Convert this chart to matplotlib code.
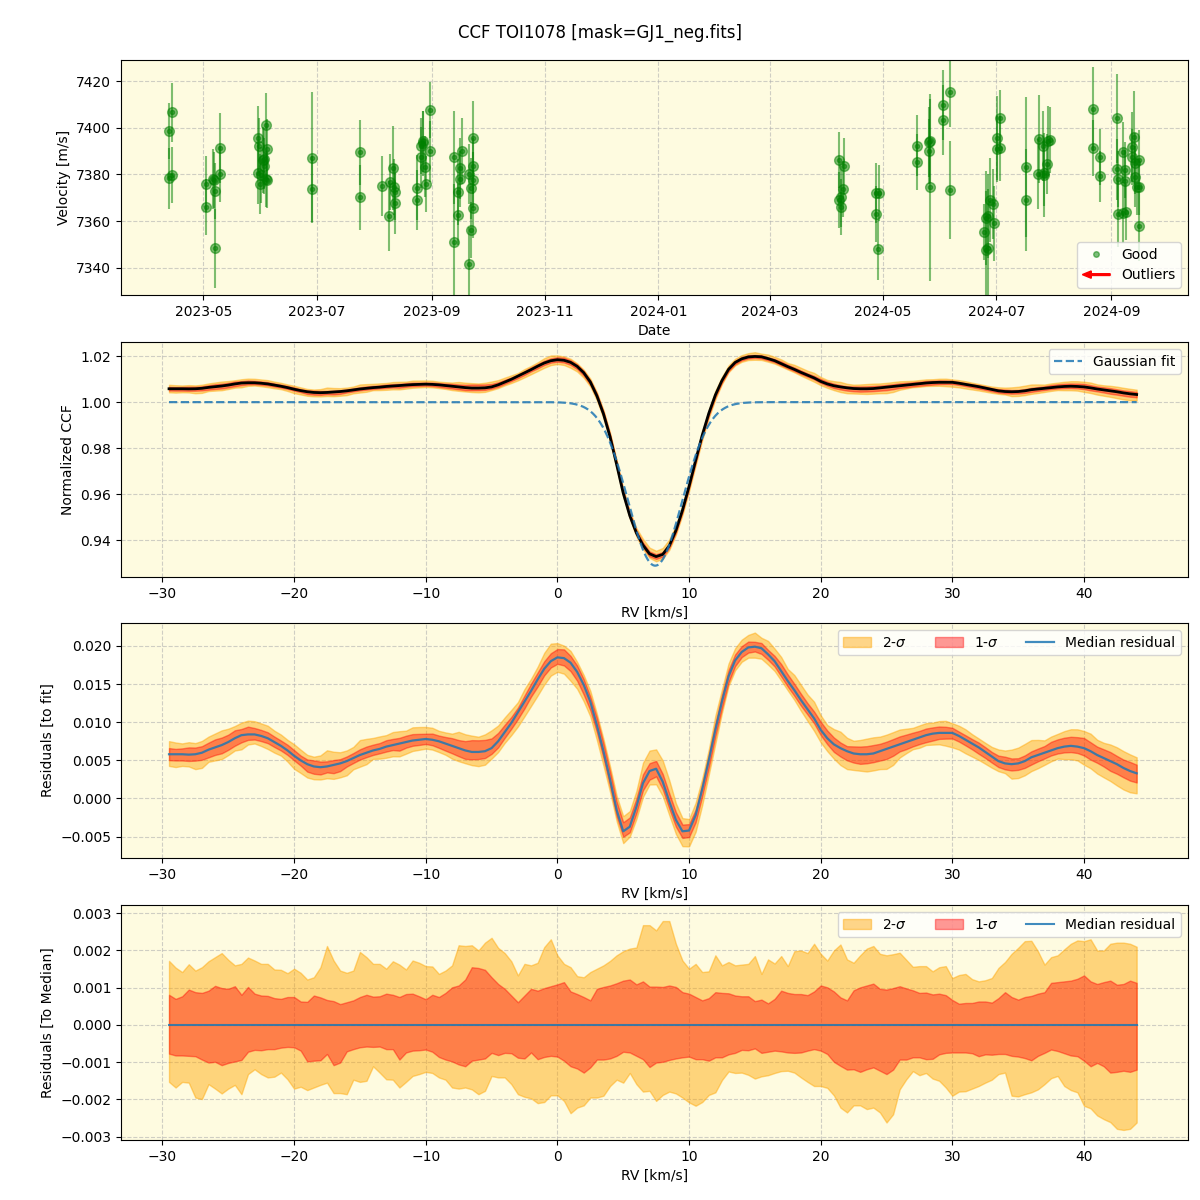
import numpy as np
import pandas as pd
import matplotlib
matplotlib.use("Agg")
import matplotlib.pyplot as plt
import matplotlib.dates as mdates
import matplotlib.patches as mpatches
from matplotlib.lines import Line2D
from matplotlib.legend_handler import HandlerPatch

# ---------------- RV time series ----------------
obs_dates = [
    "2023-04-12 17:00", "2023-04-12 17:00", "2023-04-14 05:00", "2023-04-14 05:00",
    "2023-05-02 10:00", "2023-05-02 10:00", "2023-05-06 02:00", "2023-05-06 16:00",
    "2023-05-07 05:00", "2023-05-07 05:00", "2023-05-10 00:00", "2023-05-10 04:00",
    "2023-05-30 10:00", "2023-05-30 10:00", "2023-05-31 04:00", "2023-05-31 17:00",
    "2023-06-01 02:00", "2023-06-01 20:00", "2023-06-02 14:00", "2023-06-02 14:00",
    "2023-06-03 12:00", "2023-06-03 12:00", "2023-06-04 10:00", "2023-06-04 10:00",
    "2023-06-28 13:00", "2023-06-28 13:00",
    "2023-07-24 12:00", "2023-07-24 12:00",
    "2023-08-05 03:00", "2023-08-09 02:00", "2023-08-09 14:00", "2023-08-11 03:00",
    "2023-08-11 12:00", "2023-08-12 10:00", "2023-08-12 10:00",
    "2023-08-23 22:00", "2023-08-24 02:00", "2023-08-25 22:00", "2023-08-25 22:00",
    "2023-08-27 05:00", "2023-08-27 05:00", "2023-08-28 12:00", "2023-08-29 02:00",
    "2023-08-31 05:00", "2023-08-31 05:00",
    "2023-09-12 22:00", "2023-09-12 22:00", "2023-09-15 07:00", "2023-09-15 07:00",
    "2023-09-16 05:00", "2023-09-16 05:00", "2023-09-17 10:00", "2023-09-21 02:00",
    "2023-09-21 07:00", "2023-09-22 05:00", "2023-09-22 05:00", "2023-09-23 05:00",
    "2023-09-23 05:00", "2023-09-23 05:00", "2023-09-23 05:00",
    "2024-04-07 03:00", "2024-04-07 07:00", "2024-04-08 10:00", "2024-04-08 14:00",
    "2024-04-09 17:00", "2024-04-09 22:00",
    "2024-04-27 07:00", "2024-04-27 07:00", "2024-04-28 07:00", "2024-04-28 17:00",
    "2024-05-19 10:00", "2024-05-19 10:00", "2024-05-25 17:00", "2024-05-25 17:00",
    "2024-05-26 14:00", "2024-05-26 14:00", "2024-06-02 07:00", "2024-06-02 07:00",
    "2024-06-06 05:00", "2024-06-06 05:00",
    "2024-06-24 05:00", "2024-06-25 07:00", "2024-06-25 07:00", "2024-06-26 19:00",
    "2024-06-26 19:00", "2024-06-27 10:00", "2024-06-29 05:00", "2024-06-29 14:00",
    "2024-07-01 10:00", "2024-07-01 10:00", "2024-07-03 07:00", "2024-07-03 07:00",
    "2024-07-16 22:00", "2024-07-16 22:00", "2024-07-23 17:00", "2024-07-24 02:00",
    "2024-07-26 00:00", "2024-07-26 22:00", "2024-07-26 22:00", "2024-07-28 07:00",
    "2024-07-28 17:00", "2024-07-30 00:00",
    "2024-08-22 05:00", "2024-08-22 05:00", "2024-08-25 17:00", "2024-08-25 17:00",
    "2024-09-04 05:00", "2024-09-04 05:00", "2024-09-04 17:00", "2024-09-04 17:00",
    "2024-09-07 12:00", "2024-09-07 12:00", "2024-09-08 10:00", "2024-09-08 10:00",
    "2024-09-09 00:00", "2024-09-12 05:00", "2024-09-12 05:00", "2024-09-13 02:00",
    "2024-09-13 14:00", "2024-09-14 00:00", "2024-09-15 00:00", "2024-09-15 22:00",
    "2024-09-15 22:00", "2024-09-15 22:00",
]
obs_rv = [
    7398.5, 7378.4, 7406.6, 7379.7,
    7375.8, 7366.1, 7378.1, 7377.6, 7372.8, 7348.4, 7391.2, 7380.2,
    7395.5, 7380.5, 7392.2, 7375.9, 7379.7, 7386.2, 7386.8, 7383.6,
    7401.0, 7378.0, 7390.8, 7377.6,
    7387.1, 7373.7,
    7389.5, 7370.2,
    7375.1, 7362.1, 7376.7, 7382.7, 7374.5, 7372.6, 7367.7,
    7374.4, 7369.0, 7387.3, 7392.2, 7393.3, 7394.2, 7383.3, 7375.9,
    7407.5, 7389.9,
    7387.3, 7351.0, 7372.4, 7362.7, 7382.7, 7378.1, 7390.1, 7380.2,
    7341.6, 7374.1, 7356.1, 7395.5, 7383.6, 7377.6, 7365.7,
    7386.1, 7369.0, 7370.5, 7366.0, 7373.7, 7383.8,
    7372.0, 7363.0, 7348.0, 7372.2,
    7392.3, 7385.2, 7393.9, 7389.9, 7394.5, 7374.5, 7409.7, 7403.2,
    7415.3, 7373.2,
    7355.3, 7361.3, 7347.7, 7362.4, 7348.7, 7369.0, 7367.4, 7359.1,
    7395.5, 7390.9, 7404.0, 7391.2,
    7383.1, 7369.1, 7380.2, 7395.2, 7392.1, 7380.6, 7379.7, 7384.5,
    7394.3, 7394.8,
    7407.9, 7391.2, 7387.3, 7379.2,
    7404.0, 7382.2, 7363.0, 7378.2, 7389.5, 7363.7, 7381.9, 7377.4,
    7364.1, 7391.9, 7387.6, 7395.9, 7384.8, 7379.1, 7374.8, 7386.2,
    7374.5, 7358.0,
]
obs_err = [
    12, 13, 12.5, 12,
    12, 12, 13, 12, 12, 17, 15, 12,
    14, 13, 12, 13, 12, 14, 13, 12,
    14, 12, 13, 12,
    28, 14,
    14, 14,
    13, 15, 12, 18, 12, 12, 13,
    14, 13, 13, 12, 14, 13, 13, 12,
    12, 13,
    20, 25, 14, 13, 13, 12, 14, 13,
    16, 13, 12, 16, 12, 12, 13,
    12, 12, 13, 12, 12, 12,
    13, 12, 13, 12,
    13, 12, 15, 14, 18, 40, 15, 15,
    15, 21,
    12, 20, 25, 18, 25, 18, 15, 16,
    18, 14, 12, 14,
    30, 22, 15, 19, 15, 14, 18, 13,
    15, 14,
    18, 12, 12, 11,
    19, 13, 14, 12, 13, 13, 12, 13,
    12, 15, 12, 20, 13, 13, 12, 13,
    12, 15,
]

# ---------------- CCF residual profiles (RV grid, 0.5 km/s) ----------------
rv = np.arange(-29.5, 44.01, 0.5)

resid_median = [
    0.0058, 0.0058, 0.0058, 0.00575, 0.0058, 0.0060, 0.0064, 0.0067, 0.0070, 0.0074,
    0.0079, 0.0083, 0.0084, 0.0084, 0.0082, 0.0079, 0.0074, 0.0069, 0.0063, 0.0056,
    0.0050, 0.0045, 0.0042, 0.0041, 0.0042, 0.0044, 0.0046, 0.0049, 0.0053, 0.0057,
    0.0060, 0.0063, 0.0065, 0.0068, 0.0070, 0.0072, 0.0074, 0.0076, 0.0077, 0.0078,
    0.0077, 0.0075, 0.0072, 0.0069, 0.0066, 0.0063, 0.0061, 0.0061, 0.0062, 0.0066,
    0.0075, 0.0087, 0.0099, 0.0113, 0.0127, 0.0141, 0.0156, 0.0170, 0.0180, 0.0185,
    0.0184, 0.0178, 0.0166, 0.0149, 0.0127, 0.0096, 0.0062, 0.0025, -0.0015, -0.0043,
    -0.0037, -0.0011, 0.0020, 0.0036, 0.0039, 0.0022, -0.0004, -0.0028, -0.0043, -0.0042,
    -0.0022, 0.0012, 0.0050, 0.0090, 0.0127, 0.0160, 0.0181, 0.0192, 0.0198, 0.0199,
    0.0197, 0.0189, 0.0180, 0.0167, 0.0154, 0.0142, 0.0129, 0.0117, 0.0105, 0.0090,
    0.0079, 0.0071, 0.0066, 0.0062, 0.0059, 0.0058, 0.0058, 0.0059, 0.0062, 0.0065,
    0.0068, 0.0071, 0.0074, 0.0077, 0.0080, 0.0083, 0.0085, 0.0086, 0.0086, 0.0086,
    0.0082, 0.0077, 0.0072, 0.0067, 0.0061, 0.0055, 0.0049, 0.0046, 0.0045, 0.0046,
    0.0049, 0.0054, 0.0057, 0.0060, 0.0063, 0.0066, 0.0068, 0.0069, 0.0068, 0.0066,
    0.0062, 0.0057, 0.0053, 0.0049, 0.0045, 0.0040, 0.0036, 0.0033,
]

# band edges relative to the median, in units of 1e-3
sig2_hi = [
    1.72, 1.54, 1.42, 1.63, 1.46, 1.55, 1.71, 1.82, 1.93, 1.75,
    1.60, 1.64, 1.81, 1.73, 1.64, 1.64, 1.49, 1.48, 1.39, 1.51,
    1.40, 1.22, 1.28, 1.55, 2.12, 1.73, 1.46, 1.40, 1.46, 1.96,
    1.82, 1.64, 1.64, 1.51, 1.71, 1.62, 1.49, 1.73, 1.67, 1.58,
    1.57, 1.37, 1.46, 1.60, 2.14, 2.12, 2.14, 2.00, 2.21, 2.34,
    2.07, 1.93, 1.71, 1.33, 1.64, 1.60, 1.67, 2.09, 2.30, 1.87,
    1.64, 1.55, 1.31, 1.28, 1.42, 1.51, 1.60, 1.72, 1.87, 1.98,
    2.05, 2.08, 2.68, 2.68, 2.54, 2.79, 2.79, 2.18, 1.73, 1.51,
    1.64, 1.42, 1.44, 1.87, 1.60, 1.69, 1.60, 1.62, 1.64, 1.85,
    1.37, 1.76, 1.65, 1.85, 1.58, 1.98, 2.00, 1.93, 2.18, 1.91,
    1.73, 2.00, 2.16, 1.76, 1.67, 1.87, 2.05, 2.12, 1.91, 1.87,
    1.90, 1.94, 1.75, 1.56, 1.58, 1.58, 1.44, 1.55, 1.58, 1.26,
    1.34, 1.37, 1.23, 1.17, 1.20, 1.26, 1.53, 1.69, 1.91, 2.07,
    2.25, 2.26, 1.98, 1.62, 1.82, 1.87, 2.03, 2.18, 2.27, 2.25,
    2.30, 2.00, 2.00, 2.18, 2.21, 2.21, 2.18, 2.10,
]
sig1_hi = [
    0.81, 0.70, 0.77, 0.95, 0.88, 0.86, 0.92, 1.05, 0.99, 0.97,
    1.04, 0.81, 1.02, 0.84, 0.79, 0.78, 0.72, 0.70, 0.75, 0.75,
    0.63, 0.62, 0.79, 0.74, 0.67, 0.64, 0.56, 0.61, 0.66, 0.75,
    0.81, 0.76, 0.77, 0.84, 0.81, 0.75, 0.83, 0.84, 0.77, 0.69,
    0.81, 0.75, 0.86, 1.01, 1.06, 1.22, 1.55, 1.53, 1.48, 1.28,
    1.10, 0.97, 0.79, 0.61, 0.79, 0.97, 0.92, 0.99, 1.04, 1.09,
    1.15, 0.90, 0.83, 0.75, 0.66, 0.97, 1.02, 1.06, 1.12, 1.19,
    1.22, 1.09, 1.17, 1.03, 1.03, 1.02, 1.06, 1.02, 0.88, 0.84,
    0.75, 0.66, 0.72, 0.88, 0.86, 0.85, 0.79, 0.77, 0.77, 0.64,
    0.68, 0.58, 0.70, 0.92, 0.86, 0.83, 0.83, 0.80, 0.90, 1.06,
    1.01, 0.90, 0.74, 0.66, 0.93, 1.01, 1.06, 1.11, 0.97, 0.95,
    0.99, 1.04, 0.98, 0.93, 0.86, 0.87, 0.82, 0.84, 0.80, 0.67,
    0.57, 0.59, 0.59, 0.63, 0.63, 0.60, 0.72, 0.88, 0.75, 0.68,
    0.75, 0.78, 0.84, 0.88, 1.13, 1.15, 1.17, 1.19, 1.24, 1.33,
    1.17, 1.10, 1.15, 1.19, 1.08, 1.10, 1.19, 1.13,
]
sig1_lo = [
    -0.77, -0.82, -0.82, -0.83, -0.84, -0.93, -1.01, -0.99, -1.08, -1.02,
    -0.98, -0.94, -0.72, -0.67, -0.68, -0.65, -0.65, -0.61, -0.59, -0.60,
    -0.69, -0.98, -0.96, -0.95, -0.78, -1.08, -1.01, -0.71, -0.65, -0.60,
    -0.58, -0.59, -0.58, -0.65, -0.65, -0.93, -0.74, -0.69, -0.68, -0.66,
    -0.72, -0.86, -0.93, -0.98, -1.06, -1.11, -0.96, -0.93, -0.90, -0.75,
    -0.81, -0.75, -0.76, -0.88, -0.90, -0.74, -0.92, -0.86, -0.83, -0.85,
    -0.96, -1.11, -1.17, -1.28, -1.14, -0.93, -0.93, -0.90, -0.83, -0.72,
    -0.74, -0.83, -0.92, -1.13, -1.01, -0.99, -0.94, -0.90, -0.87, -0.85,
    -0.92, -0.92, -0.96, -0.87, -0.87, -0.79, -0.75, -0.67, -0.68, -0.63,
    -0.75, -0.72, -0.69, -0.71, -0.74, -0.75, -0.74, -0.69, -0.65, -0.69,
    -0.78, -0.99, -1.10, -1.20, -1.19, -1.26, -1.19, -1.14, -1.23, -1.32,
    -1.20, -0.93, -0.93, -0.87, -0.87, -0.92, -0.91, -0.79, -0.75, -0.74,
    -0.74, -0.74, -0.76, -0.84, -0.79, -0.80, -0.78, -0.78, -0.83, -0.85,
    -0.89, -0.95, -0.83, -0.75, -0.66, -0.70, -0.76, -0.82, -0.84, -0.96,
    -1.11, -1.02, -1.11, -1.28, -1.26, -1.23, -1.26, -1.20,
]
sig2_lo = [
    -1.53, -1.68, -1.53, -1.55, -1.95, -1.99, -1.59, -1.71, -1.84, -1.71,
    -1.61, -1.86, -1.32, -1.19, -1.32, -1.41, -1.39, -1.28, -1.46, -1.71,
    -1.66, -1.75, -1.68, -1.61, -1.55, -1.83, -1.83, -1.86, -1.47, -1.53,
    -1.50, -1.11, -1.28, -1.46, -1.47, -1.68, -1.53, -1.37, -1.32, -1.26,
    -1.29, -1.41, -1.47, -1.68, -1.71, -1.68, -1.73, -1.86, -1.77, -1.37,
    -1.41, -1.41, -1.59, -1.86, -1.93, -1.97, -2.10, -2.07, -1.89, -1.89,
    -2.04, -2.37, -2.22, -2.16, -1.95, -1.95, -1.90, -1.64, -1.47, -1.55,
    -1.29, -1.59, -1.79, -1.77, -2.04, -1.88, -1.79, -1.84, -1.95, -2.08,
    -2.17, -2.07, -1.88, -1.81, -1.48, -1.25, -1.29, -1.28, -1.34, -1.44,
    -1.38, -1.35, -1.29, -1.24, -1.23, -1.28, -1.41, -1.53, -1.64, -1.64,
    -1.69, -1.89, -2.22, -2.35, -2.16, -2.16, -2.26, -2.22, -2.35, -2.62,
    -2.40, -1.73, -1.46, -1.24, -1.35, -1.29, -1.44, -1.50, -1.68, -1.90,
    -1.79, -1.78, -1.71, -1.64, -1.55, -1.47, -1.32, -1.28, -1.90, -1.92,
    -1.86, -1.81, -1.73, -1.59, -1.43, -1.37, -1.64, -1.75, -1.81, -2.17,
    -2.24, -2.43, -2.53, -2.61, -2.79, -2.82, -2.79, -2.62,
]

# Gaussian fit parameters (baseline, depth, centre [km/s], sigma [km/s])
fit_base, fit_depth, fit_mu, fit_sigma = 1.0, 0.071, 7.43, 2.05

# ---------------- derived quantities ----------------
t = pd.to_datetime(obs_dates)
med = np.array(resid_median)
s2h = np.array(sig2_hi) * 1e-3
s1h = np.array(sig1_hi) * 1e-3
s1l = np.array(sig1_lo) * 1e-3
s2l = np.array(sig2_lo) * 1e-3


def gauss(x):
    return fit_base - fit_depth * np.exp(-0.5 * ((x - fit_mu) / fit_sigma) ** 2)


fit_on_grid = gauss(rv)
ccf = fit_on_grid + med
rv_fine = np.linspace(rv[0], rv[-1], 800)

# ---------------- figure ----------------
BG = "#fefbe0"
fig = plt.figure(figsize=(12, 12), dpi=100)
L, W, H = 0.1008, 0.8892, 0.1958
ax1 = fig.add_axes([L, 0.7542, W, H])
ax2 = fig.add_axes([L, 0.5192, W, H])
ax3 = fig.add_axes([L, 0.2850, W, H])
ax4 = fig.add_axes([L, 0.0500, W, H])
for ax in (ax1, ax2, ax3, ax4):
    ax.set_facecolor(BG)
    ax.grid(True, linestyle="--", alpha=0.6)
    ax.set_axisbelow(True)

fig.suptitle("CCF TOI1078 [mask=GJ1_neg.fits]", fontsize=12, y=0.98)

# Panel 1
ax1.errorbar(t, obs_rv, yerr=obs_err, fmt="o", color="green", alpha=0.5,
             ms=7, elinewidth=1.5, capsize=0)
ax1.plot(t, obs_rv, ".", color="green", alpha=0.5, ms=6)
ax1.set_xlim(pd.Timestamp("2023-03-17 14:00"), pd.Timestamp("2024-10-12 07:00"))
ax1.set_ylim(7328.4, 7429.0)
ax1.xaxis.set_major_locator(mdates.MonthLocator(bymonth=[1, 3, 5, 7, 9, 11]))
ax1.xaxis.set_major_formatter(mdates.DateFormatter("%Y-%m"))
ax1.set_xlabel("Date")
ax1.set_ylabel("Velocity [m/s]")


def make_arrow(legend, orig_handle, xdescent, ydescent, width, height, fontsize):
    return mpatches.FancyArrow(width - xdescent, 0.5 * height - ydescent, -width, 0,
                               length_includes_head=True, width=0.18 * height,
                               head_width=0.75 * height, head_length=0.32 * width)


good_handle = Line2D([], [], marker=".", ls="", color="green", alpha=0.5, ms=8)
out_handle = mpatches.FancyArrow(0, 0, 1, 0, color="red")
ax1.legend([good_handle, out_handle], ["Good", "Outliers"], loc="lower right",
           handler_map={mpatches.FancyArrow: HandlerPatch(patch_func=make_arrow)})

# Panel 2
ax2.fill_between(rv, ccf + s2l, ccf + s2h, color="orange", alpha=0.45)
ax2.fill_between(rv, ccf + s1l, ccf + s1h, color="red", alpha=0.4)
ax2.plot(rv, ccf, color="black", lw=2)
ax2.plot(rv_fine, gauss(rv_fine), "--", color="C0", alpha=0.85, lw=1.6,
         label="Gaussian fit")
ax2.set_xlim(-33.15, 47.9)
ax2.set_ylim(0.9241, 1.0261)
ax2.set_xlabel("RV [km/s]")
ax2.set_ylabel("Normalized CCF")
ax2.legend(loc="upper right")

# Panel 3
ax3.fill_between(rv, med + s2l, med + s2h, color="orange", alpha=0.45, label="2-$\\sigma$")
ax3.fill_between(rv, med + s1l, med + s1h, color="red", alpha=0.4, label="1-$\\sigma$")
ax3.plot(rv, med, color="C0", lw=1.6, alpha=0.85, label="Median residual")
ax3.set_xlim(-33.15, 47.9)
ax3.set_ylim(-0.0078, 0.0230)
ax3.set_xlabel("RV [km/s]")
ax3.set_ylabel("Residuals [to fit]")
ax3.legend(loc="upper right", ncol=3)

# Panel 4
zero = np.zeros_like(rv)
ax4.fill_between(rv, s2l, s2h, color="orange", alpha=0.45, label="2-$\\sigma$")
ax4.fill_between(rv, s1l, s1h, color="red", alpha=0.4, label="1-$\\sigma$")
ax4.plot(rv, zero, color="C0", lw=1.5, alpha=0.85, label="Median residual")
ax4.set_xlim(-33.15, 47.9)
ax4.set_ylim(-0.00309, 0.00322)
ax4.set_xlabel("RV [km/s]")
ax4.set_ylabel("Residuals [To Median]")
ax4.legend(loc="upper right", ncol=3)

fig.savefig("out.png", dpi=100)
